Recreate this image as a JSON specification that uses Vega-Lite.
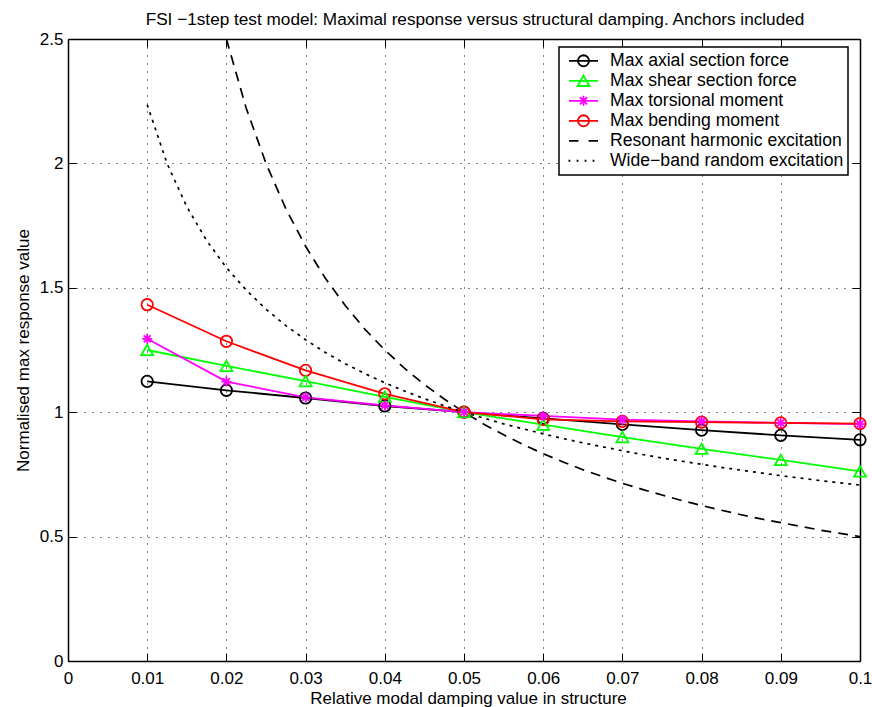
{
  "$schema": "https://vega.github.io/schema/vega-lite/v6.json",
  "autosize": {"type": "none"},
  "width": 792,
  "height": 622,
  "padding": {"left": 68, "top": 39, "right": 12, "bottom": 46},
  "background": "white",
  "title": {"text": "FSI −1step test model: Maximal response versus structural damping. Anchors included", "anchor": "middle", "frame": "group", "baseline": "alphabetic", "offset": -12, "dx": 11, "font": "Liberation Sans", "fontSize": 17.2, "fontWeight": "normal", "color": "black"},
  "data": {"values": [
    {"s": "Max axial section force", "x": 0.01, "y": 1.124},
    {"s": "Max axial section force", "x": 0.02, "y": 1.088},
    {"s": "Max axial section force", "x": 0.03, "y": 1.057},
    {"s": "Max axial section force", "x": 0.04, "y": 1.025},
    {"s": "Max axial section force", "x": 0.05, "y": 1.0},
    {"s": "Max axial section force", "x": 0.06, "y": 0.975},
    {"s": "Max axial section force", "x": 0.07, "y": 0.951},
    {"s": "Max axial section force", "x": 0.08, "y": 0.928},
    {"s": "Max axial section force", "x": 0.09, "y": 0.907},
    {"s": "Max axial section force", "x": 0.1, "y": 0.889},
    {"s": "Max shear section force", "x": 0.01, "y": 1.25},
    {"s": "Max shear section force", "x": 0.02, "y": 1.186},
    {"s": "Max shear section force", "x": 0.03, "y": 1.125},
    {"s": "Max shear section force", "x": 0.04, "y": 1.062},
    {"s": "Max shear section force", "x": 0.05, "y": 1.0},
    {"s": "Max shear section force", "x": 0.06, "y": 0.95},
    {"s": "Max shear section force", "x": 0.07, "y": 0.9},
    {"s": "Max shear section force", "x": 0.08, "y": 0.853},
    {"s": "Max shear section force", "x": 0.09, "y": 0.808},
    {"s": "Max shear section force", "x": 0.1, "y": 0.762},
    {"s": "Max torsional moment", "x": 0.01, "y": 1.295},
    {"s": "Max torsional moment", "x": 0.02, "y": 1.123},
    {"s": "Max torsional moment", "x": 0.03, "y": 1.06},
    {"s": "Max torsional moment", "x": 0.04, "y": 1.027},
    {"s": "Max torsional moment", "x": 0.05, "y": 1.0},
    {"s": "Max torsional moment", "x": 0.06, "y": 0.985},
    {"s": "Max torsional moment", "x": 0.07, "y": 0.97},
    {"s": "Max torsional moment", "x": 0.08, "y": 0.963},
    {"s": "Max torsional moment", "x": 0.09, "y": 0.957},
    {"s": "Max torsional moment", "x": 0.1, "y": 0.952},
    {"s": "Max bending moment", "x": 0.01, "y": 1.432},
    {"s": "Max bending moment", "x": 0.02, "y": 1.285},
    {"s": "Max bending moment", "x": 0.03, "y": 1.168},
    {"s": "Max bending moment", "x": 0.04, "y": 1.074},
    {"s": "Max bending moment", "x": 0.05, "y": 1.0},
    {"s": "Max bending moment", "x": 0.06, "y": 0.971},
    {"s": "Max bending moment", "x": 0.07, "y": 0.963},
    {"s": "Max bending moment", "x": 0.08, "y": 0.96},
    {"s": "Max bending moment", "x": 0.09, "y": 0.957},
    {"s": "Max bending moment", "x": 0.1, "y": 0.954},
    {"s": "Resonant harmonic excitation", "x": 0.02, "y": 2.5},
    {"s": "Resonant harmonic excitation", "x": 0.0225, "y": 2.222},
    {"s": "Resonant harmonic excitation", "x": 0.025, "y": 2.0},
    {"s": "Resonant harmonic excitation", "x": 0.0275, "y": 1.818},
    {"s": "Resonant harmonic excitation", "x": 0.03, "y": 1.667},
    {"s": "Resonant harmonic excitation", "x": 0.0325, "y": 1.538},
    {"s": "Resonant harmonic excitation", "x": 0.035, "y": 1.429},
    {"s": "Resonant harmonic excitation", "x": 0.0375, "y": 1.333},
    {"s": "Resonant harmonic excitation", "x": 0.04, "y": 1.25},
    {"s": "Resonant harmonic excitation", "x": 0.0425, "y": 1.176},
    {"s": "Resonant harmonic excitation", "x": 0.045, "y": 1.111},
    {"s": "Resonant harmonic excitation", "x": 0.0475, "y": 1.053},
    {"s": "Resonant harmonic excitation", "x": 0.05, "y": 1.0},
    {"s": "Resonant harmonic excitation", "x": 0.0525, "y": 0.952},
    {"s": "Resonant harmonic excitation", "x": 0.055, "y": 0.909},
    {"s": "Resonant harmonic excitation", "x": 0.0575, "y": 0.87},
    {"s": "Resonant harmonic excitation", "x": 0.06, "y": 0.833},
    {"s": "Resonant harmonic excitation", "x": 0.0625, "y": 0.8},
    {"s": "Resonant harmonic excitation", "x": 0.065, "y": 0.769},
    {"s": "Resonant harmonic excitation", "x": 0.0675, "y": 0.741},
    {"s": "Resonant harmonic excitation", "x": 0.07, "y": 0.714},
    {"s": "Resonant harmonic excitation", "x": 0.0725, "y": 0.69},
    {"s": "Resonant harmonic excitation", "x": 0.075, "y": 0.667},
    {"s": "Resonant harmonic excitation", "x": 0.0775, "y": 0.645},
    {"s": "Resonant harmonic excitation", "x": 0.08, "y": 0.625},
    {"s": "Resonant harmonic excitation", "x": 0.0825, "y": 0.606},
    {"s": "Resonant harmonic excitation", "x": 0.085, "y": 0.588},
    {"s": "Resonant harmonic excitation", "x": 0.0875, "y": 0.571},
    {"s": "Resonant harmonic excitation", "x": 0.09, "y": 0.556},
    {"s": "Resonant harmonic excitation", "x": 0.0925, "y": 0.541},
    {"s": "Resonant harmonic excitation", "x": 0.095, "y": 0.526},
    {"s": "Resonant harmonic excitation", "x": 0.0975, "y": 0.513},
    {"s": "Resonant harmonic excitation", "x": 0.1, "y": 0.5},
    {"s": "Wide−band random excitation", "x": 0.01, "y": 2.236},
    {"s": "Wide−band random excitation", "x": 0.0125, "y": 2.0},
    {"s": "Wide−band random excitation", "x": 0.015, "y": 1.826},
    {"s": "Wide−band random excitation", "x": 0.0175, "y": 1.69},
    {"s": "Wide−band random excitation", "x": 0.02, "y": 1.581},
    {"s": "Wide−band random excitation", "x": 0.0225, "y": 1.491},
    {"s": "Wide−band random excitation", "x": 0.025, "y": 1.414},
    {"s": "Wide−band random excitation", "x": 0.0275, "y": 1.348},
    {"s": "Wide−band random excitation", "x": 0.03, "y": 1.291},
    {"s": "Wide−band random excitation", "x": 0.0325, "y": 1.24},
    {"s": "Wide−band random excitation", "x": 0.035, "y": 1.195},
    {"s": "Wide−band random excitation", "x": 0.0375, "y": 1.155},
    {"s": "Wide−band random excitation", "x": 0.04, "y": 1.118},
    {"s": "Wide−band random excitation", "x": 0.0425, "y": 1.085},
    {"s": "Wide−band random excitation", "x": 0.045, "y": 1.054},
    {"s": "Wide−band random excitation", "x": 0.0475, "y": 1.026},
    {"s": "Wide−band random excitation", "x": 0.05, "y": 1.0},
    {"s": "Wide−band random excitation", "x": 0.0525, "y": 0.976},
    {"s": "Wide−band random excitation", "x": 0.055, "y": 0.953},
    {"s": "Wide−band random excitation", "x": 0.0575, "y": 0.933},
    {"s": "Wide−band random excitation", "x": 0.06, "y": 0.913},
    {"s": "Wide−band random excitation", "x": 0.0625, "y": 0.894},
    {"s": "Wide−band random excitation", "x": 0.065, "y": 0.877},
    {"s": "Wide−band random excitation", "x": 0.0675, "y": 0.861},
    {"s": "Wide−band random excitation", "x": 0.07, "y": 0.845},
    {"s": "Wide−band random excitation", "x": 0.0725, "y": 0.83},
    {"s": "Wide−band random excitation", "x": 0.075, "y": 0.816},
    {"s": "Wide−band random excitation", "x": 0.0775, "y": 0.803},
    {"s": "Wide−band random excitation", "x": 0.08, "y": 0.791},
    {"s": "Wide−band random excitation", "x": 0.0825, "y": 0.778},
    {"s": "Wide−band random excitation", "x": 0.085, "y": 0.767},
    {"s": "Wide−band random excitation", "x": 0.0875, "y": 0.756},
    {"s": "Wide−band random excitation", "x": 0.09, "y": 0.745},
    {"s": "Wide−band random excitation", "x": 0.0925, "y": 0.735},
    {"s": "Wide−band random excitation", "x": 0.095, "y": 0.725},
    {"s": "Wide−band random excitation", "x": 0.0975, "y": 0.716},
    {"s": "Wide−band random excitation", "x": 0.1, "y": 0.707}
  ]},
  "resolve": {"axis": {"x": "independent", "y": "independent"}},
  "layer": [
    {
      "transform": [{"filter": "datum.x == 0.05"}],
      "mark": {"type": "point", "filled": false, "size": 841, "strokeWidth": 1.8, "opacity": 0},
      "encoding": {
        "x": {"field": "x", "type": "quantitative", "scale": {"domain": [0, 0.1], "nice": false, "zero": false}, "axis": null},
        "y": {"field": "y", "type": "quantitative", "scale": {"domain": [0, 2.5], "nice": false, "zero": false}, "axis": null},
        "color": {"field": "s", "type": "nominal",
          "scale": {"domain": ["Max axial section force", "Max shear section force", "Max torsional moment", "Max bending moment", "Resonant harmonic excitation", "Wide−band random excitation"], "range": ["#000000", "#00ff00", "#ff00ff", "#ff0000", "#000000", "#000000"]},
          "legend": {"title": null, "orient": "none", "legendX": 491, "legendY": 8, "padding": 4, "symbolOffset": 5, "clipHeight": 19.6, "rowPadding": 0, "labelOffset": 11, "symbolSize": 841, "symbolStrokeWidth": 1.8, "symbolOpacity": 1, "labelFont": "Liberation Sans", "labelFontSize": 17.6, "labelColor": "black", "labelLimit": 400, "strokeColor": "black", "fillColor": "white"}},
        "shape": {"field": "s", "type": "nominal",
          "scale": {"domain": ["Max axial section force", "Max shear section force", "Max torsional moment", "Max bending moment", "Resonant harmonic excitation", "Wide−band random excitation"],
            "range": [
              "M-1,0L1,0M0.38,0L0.351,0.145L0.269,0.269L0.145,0.351L0,0.38L-0.145,0.351L-0.269,0.269L-0.351,0.145L-0.38,0L-0.351,-0.145L-0.269,-0.269L-0.145,-0.351L0,-0.38L0.145,-0.351L0.269,-0.269L0.351,-0.145Z",
              "M-1,0L1,0M0,-0.36L0.41,0.36L-0.41,0.36Z",
              "M-1,0L1,0M0,-0.345L0,0.345M-0.245,-0.245L0.245,0.245M-0.245,0.245L0.245,-0.245",
              "M-1,0L1,0M0.38,0L0.351,0.145L0.269,0.269L0.145,0.351L0,0.38L-0.145,0.351L-0.269,0.269L-0.351,0.145L-0.38,0L-0.351,-0.145L-0.269,-0.269L-0.145,-0.351L0,-0.38L0.145,-0.351L0.269,-0.269L0.351,-0.145Z",
              "M-1,0L-0.35,0M0.35,0L1,0",
              "M-0.97,-0.07L-0.97,0.07M-0.41,-0.07L-0.41,0.07M0.14,-0.07L0.14,0.07M0.69,-0.07L0.69,0.07"
            ]},
          "legend": {"title": null, "orient": "none", "legendX": 491, "legendY": 8, "padding": 4, "symbolOffset": 5, "clipHeight": 19.6, "rowPadding": 0, "labelOffset": 11, "symbolSize": 841, "symbolStrokeWidth": 1.8, "symbolOpacity": 1, "labelFont": "Liberation Sans", "labelFontSize": 17.6, "labelColor": "black", "labelLimit": 400, "strokeColor": "black", "fillColor": "white"}}
      }
    },
    {
      "transform": [{"filter": {"field": "s", "oneOf": ["Max axial section force", "Max shear section force", "Max torsional moment", "Max bending moment"]}}],
      "mark": {"type": "line", "strokeWidth": 1.8},
      "encoding": {
        "x": {"field": "x", "type": "quantitative",
          "axis": {"orient": "bottom", "values": [0, 0.01, 0.02, 0.03, 0.04, 0.05, 0.06, 0.07, 0.08, 0.09, 0.1], "format": "~g", "grid": true, "title": "Relative modal damping value in structure", "tickSize": -8, "labelPadding": 30.5, "labelBaseline": "alphabetic", "titleBaseline": "alphabetic", "titleY": 42.5, "titleX": 400}},
        "y": {"field": "y", "type": "quantitative",
          "axis": {"orient": "left", "values": [0, 0.5, 1, 1.5, 2, 2.5], "format": "~g", "grid": true, "title": "Normalised max response value", "tickSize": -8, "labelPadding": 13, "titleX": -40, "titleBaseline": "alphabetic"}},
        "color": {"field": "s", "type": "nominal", "legend": null}
      }
    },
    {
      "transform": [{"filter": {"field": "s", "oneOf": ["Resonant harmonic excitation", "Wide−band random excitation"]}}],
      "mark": {"type": "line", "strokeWidth": 1.7},
      "encoding": {
        "x": {"field": "x", "type": "quantitative", "axis": null},
        "y": {"field": "y", "type": "quantitative", "axis": null},
        "color": {"field": "s", "type": "nominal", "legend": null},
        "strokeDash": {"field": "s", "type": "nominal", "legend": null,
          "scale": {"domain": ["Resonant harmonic excitation", "Wide−band random excitation"], "range": [[10, 7], [3, 5]]}}
      }
    },
    {
      "transform": [{"filter": {"field": "s", "oneOf": ["Max axial section force", "Max bending moment"]}}],
      "mark": {"type": "point", "shape": "circle", "filled": false, "size": 130, "strokeWidth": 1.8, "opacity": 1},
      "encoding": {
        "x": {"field": "x", "type": "quantitative",
          "axis": {"orient": "top", "values": [0, 0.01, 0.02, 0.03, 0.04, 0.05, 0.06, 0.07, 0.08, 0.09, 0.1], "labels": false, "grid": false, "title": null, "tickSize": -8}},
        "y": {"field": "y", "type": "quantitative",
          "axis": {"orient": "right", "values": [0, 0.5, 1, 1.5, 2, 2.5], "labels": false, "grid": false, "title": null, "tickSize": -8}},
        "color": {"field": "s", "type": "nominal", "legend": null}
      }
    },
    {
      "transform": [{"filter": {"field": "s", "equal": "Max shear section force"}}],
      "mark": {"type": "point", "shape": "triangle-up", "filled": false, "size": 144, "strokeWidth": 1.8, "opacity": 1},
      "encoding": {
        "x": {"field": "x", "type": "quantitative", "axis": null},
        "y": {"field": "y", "type": "quantitative", "axis": null},
        "color": {"field": "s", "type": "nominal", "legend": null}
      }
    },
    {
      "transform": [{"filter": {"field": "s", "equal": "Max torsional moment"}}],
      "mark": {"type": "point", "shape": "M-1,0L1,0M0,-1L0,1M-0.7,-0.7L0.7,0.7M-0.7,0.7L0.7,-0.7", "filled": false, "size": 100, "strokeWidth": 1.8, "opacity": 1},
      "encoding": {
        "x": {"field": "x", "type": "quantitative", "axis": null},
        "y": {"field": "y", "type": "quantitative", "axis": null},
        "color": {"field": "s", "type": "nominal", "legend": null}
      }
    }
  ],
  "config": {
    "view": {"stroke": null},
    "axis": {
      "domainColor": "black", "domainWidth": 1.5, "tickColor": "black", "tickWidth": 1,
      "gridColor": "black", "gridDash": [1, 7], "gridOpacity": 1, "gridWidth": 1,
      "labelFont": "Liberation Sans", "labelFontSize": 17, "labelColor": "black", "labelFlush": false, "labelOverlap": false,
      "titleFont": "Liberation Sans", "titleFontSize": 17, "titleFontWeight": "normal", "titleColor": "black"
    },
    "legend": {"strokeWidth": 1.5}
  }
}
